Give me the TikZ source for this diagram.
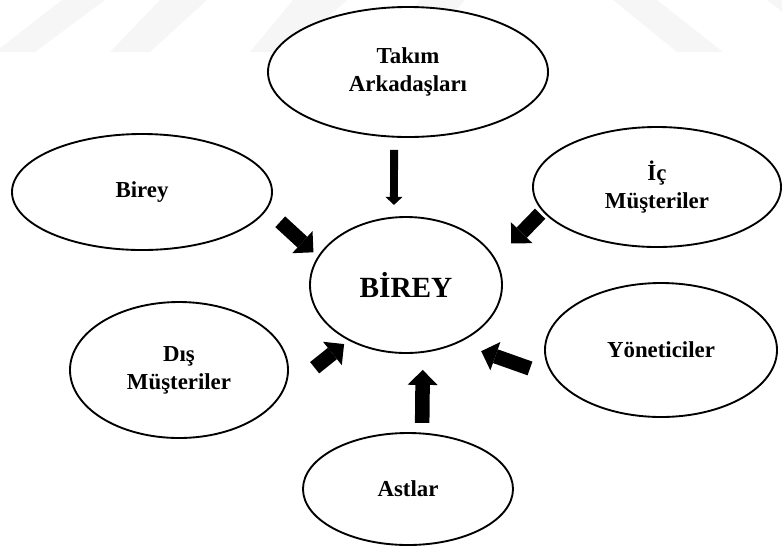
\documentclass[tikz,border=0pt]{standalone}
\usepackage{fontspec}
\setmainfont{Liberation Serif}
\usetikzlibrary{shapes.geometric,arrows.meta}

\begin{document}
\begin{tikzpicture}[x=0.03cm,y=-0.03cm,
    oval/.style={draw,ellipse,line width=1.6pt,fill=white,inner sep=0pt,align=center,
        font=\bfseries\fontsize{19.5}{24}\selectfont},
    bigarrow/.style={line width=12.4pt,-{Triangle[width=0.9cm,length=0.45cm,line width=0pt]}},
    smallarrow/.style={line width=6.8pt,-{Triangle[width=0.51cm,length=0.24cm,line width=0pt]}}]
    \useasboundingbox (0,0) rectangle (782,547);
    \clip (0,0) rectangle (782,547);

    % faint stripes at the top
    \foreach \a/\b/\c/\d in {62/105/35/-5, 160/207/150/110, 293/347/290/250, 420/465/420/375,
                             613/657/723/677, 767/812/880/835}
        \fill[gray!7] (\a,0)--(\b,0)--(\c,52)--(\d,52)--cycle;

    \node[oval,minimum width=8.4cm,minimum height=3.9cm] (takim) at (408,72) {Takım\\Arkadaşları};
    \node[oval,minimum width=5.76cm,minimum height=4.08cm,font=\bfseries\fontsize{25}{30}\selectfont] (merkez) at (406,285) {BİREY};
    \node[oval,minimum width=7.8cm,minimum height=3.48cm] (birey) at (142,192) {Birey};
    \node[oval,minimum width=7.44cm,minimum height=3.6cm] (ic) at (657,187) {İç\\Müşteriler};
    \node[oval,minimum width=6.54cm,minimum height=4.08cm] (dis) at (179,370) {Dış\\Müşteriler};
    \node[oval,minimum width=6.96cm,minimum height=4.02cm] (yon) at (661,350) {Yöneticiler};
    \node[oval,minimum width=6.3cm,minimum height=3.36cm] (astlar) at (408,489) {Astlar};

    \draw[smallarrow,shorten <=0.37cm,shorten >=0.35cm] (takim.-102) -- (merkez.100);
    \draw[bigarrow,shorten <=0.54cm,shorten >=0.18cm] (birey.-8) -- (merkez.162);
    \draw[bigarrow,shorten <=0.1cm,shorten >=0.66cm] (ic.-168) -- (merkez.16);
    \draw[bigarrow,shorten <=1.25cm,shorten >=0.17cm] (dis.-13.5) -- (merkez.-136);
    \draw[bigarrow,shorten <=0.75cm,shorten >=0.73cm] (yon.-166) -- (merkez.-48.5);
    \draw[bigarrow,shorten <=0.29cm,shorten >=0.51cm] (astlar.76) -- (merkez.-76.6);
\end{tikzpicture}
\end{document}
